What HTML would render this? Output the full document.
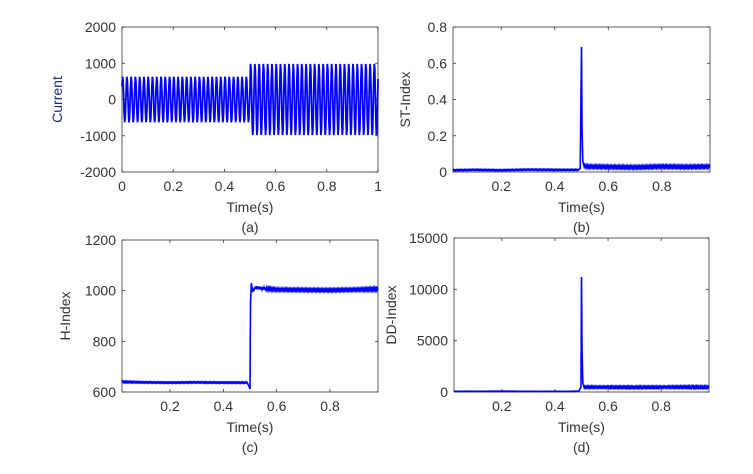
<!DOCTYPE html>
<html><head><meta charset="utf-8"><style>
body{margin:0;background:#fff;}
svg{display:block;font-family:"Liberation Sans",sans-serif;}
text{fill:#333;font-size:14px;}
</style></head><body>
<svg id="fig" width="753" height="474"></svg>
<script>
// ----- data -----
const currentTimesSeg = [0,0.1,0.2,0.3,0.4,0.5,0.6,0.7,0.8,0.9,1.0];
const currentAmp = [640,640,640,640,640,1000,1000,1000,1000,1000];
const currentFreq = 60;
const stTimes = [0.02,0.1,0.2,0.3,0.4,0.49,0.495,0.5,0.502,0.505,0.51,0.52,0.6,0.7,0.8,0.9,0.98];
const stVals  = [0.01,0.012,0.01,0.013,0.012,0.012,0.02,0.69,0.25,0.06,0.035,0.03,0.028,0.026,0.03,0.028,0.03];
const stRipple = [0.005,0.005,0.005,0.005,0.005,0.005,0,0,0,0,0.012,0.012,0.012,0.012,0.012,0.012,0.012];
const hTimes = [0.02,0.1,0.2,0.3,0.4,0.49,0.5,0.502,0.505,0.51,0.52,0.6,0.7,0.8,0.9,0.98];
const hVals  = [640,638,637,638,637,637,612,950,1030,1000,1012,1004,1003,1002,1004,1006];
const hRipple= [5,4,4,4,4,4,0,0,0,12,12,8,8,8,8,10];
const ddTimes = [0.02,0.1,0.2,0.3,0.4,0.49,0.498,0.5,0.502,0.505,0.51,0.6,0.7,0.8,0.9,0.98];
const ddVals  = [60,60,70,60,60,70,500,11200,4300,900,480,470,460,470,480,470];
const ddRipple= [30,30,40,30,30,30,0,0,0,0,150,150,160,150,170,170];
const NS="http://www.w3.org/2000/svg";
const svg=document.getElementById('fig');
function el(tag,attrs,parent){const e=document.createElementNS(NS,tag);for(const k in attrs)e.setAttribute(k,attrs[k]);(parent||svg).appendChild(e);return e;}
function panel(o){
  const g=el('g',{});
  
  
  const sx=v=>o.x0+(v-o.xmin)/(o.xmax-o.xmin)*(o.x1-o.x0);
  const sy=v=>o.y1-(v-o.ymin)/(o.ymax-o.ymin)*(o.y1-o.y0);
  const fr=el('rect',{x:o.x0,y:o.y0,width:o.x1-o.x0,height:o.y1-o.y0,fill:'none',stroke:'#333','stroke-width':0.8},g);
  
  
  o.xt.forEach((t,i)=>{const x=sx(t);
    el('line',{x1:x,x2:x,y1:o.y1,y2:o.y1-3,stroke:'#333','stroke-width':0.8},g);
    el('line',{x1:x,x2:x,y1:o.y0,y2:o.y0+3,stroke:'#333','stroke-width':0.8},g);
    const tx=el('text',{x:x,y:o.y1+19,'text-anchor':'middle'},g);tx.textContent=o.xl[i];
    
    });
  o.yt.forEach((t,i)=>{const y=sy(t);
    el('line',{x1:o.x0,x2:o.x0+3,y1:y,y2:y,stroke:'#333','stroke-width':0.8},g);
    el('line',{x1:o.x1,x2:o.x1-3,y1:y,y2:y,stroke:'#333','stroke-width':0.8},g);
    const tx=el('text',{x:o.x0-6,y:y+5,'text-anchor':'end'},g);tx.textContent=o.yl[i];
    
    });
  const xt=el('text',{x:(o.x0+o.x1)/2,y:o.y1+40,'text-anchor':'middle'},g);xt.textContent='Time(s)';
  
  
  const cap=el('text',{x:(o.x0+o.x1)/2,y:o.y1+60,'text-anchor':'middle'},g);cap.textContent=o.cap;
  
  
  const yc=(o.y0+o.y1)/2;
  const yt=el('text',{x:o.yx,y:yc,'text-anchor':'middle',transform:`rotate(-90 ${o.yx} ${yc})`,style:o.ycol?`fill:${o.ycol}`:''},g);yt.textContent=o.ylab;
  
  
  return {g,sx,sy};
}
function seriesPath(p,times,vals,rip,name){
  let pts=[];
  for(let i=0;i<times.length-1;i++){
    const t0=times[i],t1=times[i+1];
    if(rip[i]===0||rip[i+1]===0){pts.push([t0,vals[i]]);continue;}
    const n=Math.max(2,Math.round((t1-t0)/0.0025));
    for(let k=0;k<n;k++){const f=k/n;const v=vals[i]+(vals[i+1]-vals[i])*f;const r=rip[i]+(rip[i+1]-rip[i])*f;pts.push([t0+(t1-t0)*f,v+(k%2?r:-r)*0.5]);}
  }
  pts.push([times[times.length-1],vals[vals.length-1]]);
  const pa=el('path',{d:'M'+pts.map(q=>p.sx(q[0]).toFixed(1)+','+p.sy(q[1]).toFixed(1)).join('L'),fill:'none',stroke:'#0000ff','stroke-width':1.6},p.g);
  
  
}
// (a)
const pa=panel({name:'panel-a-current',x0:122,x1:378,y0:27,y1:172,xmin:0,xmax:1,ymin:-2000,ymax:2000,
  xt:[0,0.2,0.4,0.6,0.8,1],xl:['0','0.2','0.4','0.6','0.8','1'],yt:[-2000,-1000,0,1000,2000],yl:['-2000','-1000','0','1000','2000'],
  cap:'(a)',ylab:'Current',yx:62,ycol:'#1a2a6c'});
{let pts=[];const dt=1/(currentFreq*8);
 for(let t=0;t<=1.0001;t+=dt){const seg=Math.min(currentAmp.length-1,Math.floor(t*10));const a=currentAmp[seg];pts.push([t,a*Math.sin(2*Math.PI*currentFreq*t+0.6)]);}
 const p=el('path',{d:'M'+pts.map(q=>pa.sx(q[0]).toFixed(1)+','+pa.sy(q[1]).toFixed(1)).join('L'),fill:'none',stroke:'#0000ff','stroke-width':1.8},pa.g);
 
 }
// (b)
const pb=panel({name:'panel-b-st-index',x0:453,x1:710,y0:27,y1:172,xmin:0.02,xmax:0.98,ymin:0,ymax:0.8,
  xt:[0.2,0.4,0.6,0.8],xl:['0.2','0.4','0.6','0.8'],yt:[0,0.2,0.4,0.6,0.8],yl:['0','0.2','0.4','0.6','0.8'],
  cap:'(b)',ylab:'ST-Index',yx:410});
seriesPath(pb,stTimes,stVals,stRipple,'st-index-series');
// (c)
const pc=panel({name:'panel-c-h-index',x0:122,x1:378,y0:240,y1:392,xmin:0.02,xmax:0.98,ymin:600,ymax:1200,
  xt:[0.2,0.4,0.6,0.8],xl:['0.2','0.4','0.6','0.8'],yt:[600,800,1000,1200],yl:['600','800','1000','1200'],
  cap:'(c)',ylab:'H-Index',yx:70});
seriesPath(pc,hTimes,hVals,hRipple,'h-index-series');
// (d)
const pd=panel({name:'panel-d-dd-index',x0:454,x1:709,y0:238,y1:392,xmin:0.02,xmax:0.98,ymin:0,ymax:15000,
  xt:[0.2,0.4,0.6,0.8],xl:['0.2','0.4','0.6','0.8'],yt:[0,5000,10000,15000],yl:['0','5000','10000','15000'],
  cap:'(d)',ylab:'DD-Index',yx:396});
seriesPath(pd,ddTimes,ddVals,ddRipple,'dd-index-series');
</script>
</body></html>
